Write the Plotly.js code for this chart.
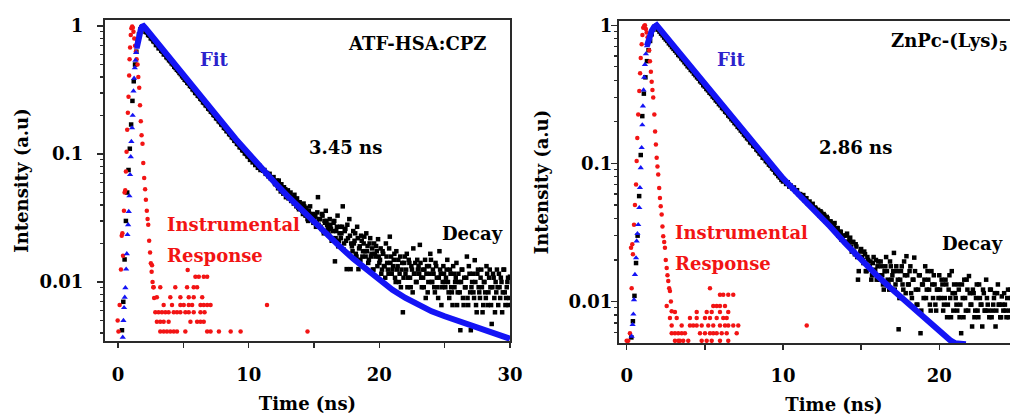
<!DOCTYPE html>
<html><head><meta charset="utf-8">
<script src="https://cdn.plot.ly/plotly-3.0.1.min.js"></script>
<style>html,body{margin:0;padding:0;background:#fff;overflow:hidden}
#frame{width:1010px;height:418px;overflow:hidden;position:relative}</style>
</head><body><div id="frame"><div id="chart"></div></div>
<script>
// ---------- Left panel: ATF-HSA:CPZ ----------
const decayLeftStart = 0.3, decayLeftStep = 0.1;
const decayLeft = [
 0.0042,0.007,0.015,0.03,0.05,0.075,0.11,0.17,0.26,0.37,0.5,0.63,0.76,0.86,0.94,0.98,0.99,
 0.95,0.90,0.89,0.85,0.84,0.80,0.79,0.76,0.75,0.71,0.71,0.67,0.67,0.64,0.63,0.60,0.60,0.57,0.56,0.54,
 0.53,0.51,0.50,0.48,0.47,0.455,0.445,0.43,0.42,0.405,
 0.395,0.38,0.375,0.36,0.355,0.34,0.335,0.32,0.315,0.30,0.298,0.285,0.282,0.27,0.265,0.253,0.25,0.24,0.237,0.226,
 0.223,0.214,0.211,0.202,0.199,0.19,0.188,0.18,0.177,0.17,0.168,0.16,0.158,0.151,0.15,0.143,0.141,0.135,0.133,0.127,
 0.126,0.12,0.119,0.113,0.112,0.107,0.106,0.101,0.1,0.096,0.095,
 0.09,0.091,0.086,0.087,0.082,0.084,0.078,0.081,0.075,0.077,
 0.074,0.075,0.070,0.071,0.067,0.070,0.064,0.063,0.066,0.059,
 0.060,0.057,0.062,0.054,0.058,0.051,0.055,0.053,0.049,0.052,
 0.047,0.050,0.044,0.046,0.048,0.041,0.045,0.038,0.042,0.040,
 0.036,0.041,0.034,0.038,0.031,0.036,0.039,0.032,0.034,0.030,
 0.033,0.029,0.046,0.031,0.027,0.034,0.025,0.030,0.036,0.028,
 0.024,0.031,0.026,0.022,0.029,0.0145,0.025,0.033,0.021,0.027,
 0.024,0.039,0.020,0.026,0.0126,0.022,0.031,0.0126,0.019,0.025,
 0.021,0.0166,0.027,0.0126,0.019,0.023,0.0158,0.020,0.0174,0.024,
 0.0191,0.0149,0.022,0.0166,0.0125,0.020,0.0158,0.0174,0.0216,0.0141,
 0.0183,0.0125,0.0166,0.0133,0.020,0.0141,0.0116,0.0226,0.0158,0.0125,
 0.0149,0.0108,0.0174,0.0133,0.0100,0.0158,0.0125,0.0058,0.0141,0.0116,
 0.0166,0.0108,0.0141,0.0091,0.0125,0.0183,0.0116,0.0100,0.0149,0.0133,
 0.0195,0.0108,0.0125,0.0091,0.0149,0.0116,0.0083,0.0133,0.0166,0.0100,
 0.0125,0.0091,0.0141,0.0108,0.0075,0.0174,0.0116,0.0091,0.0133,0.0100,
 0.0108,0.0149,0.0083,0.0125,0.0091,0.0066,0.0116,0.0100,0.0141,0.0083,
 0.0100,0.0042,0.0125,0.0075,0.0108,0.0091,0.0158,0.0066,0.0116,0.0042,
 0.0100,0.0083,0.0148,0.0066,0.0116,0.0091,0.0075,0.0125,0.0058,0.0100,
 0.0083,0.0133,0.0066,0.0108,0.0091,0.0047,0.0116,0.0075,0.0100,0.0125,
 0.0066,0.0091,0.0108,0.0058,0.0125,0.0083,0.0075,0.0100,0.0066,0.0110
];
// interleaved channels in the tail (12.05 ns onward)
const decayLeftTailStart = 12.05, decayLeftTailStep = 0.1;
const decayLeftTail = [
 0.058,0.062,0.054,0.058,0.051,0.055,0.049,0.052,0.046,0.05,
 0.045,0.048,0.043,0.046,0.041,0.043,0.039,0.042,0.037,0.040,
 0.037,0.034,0.039,0.033,0.035,0.030,0.034,0.031,0.033,0.029,
 0.032,0.027,0.035,0.028,0.031,0.026,0.033,0.024,0.029,0.030,
 0.026,0.023,0.028,0.021,0.025,0.030,0.022,0.027,0.019,0.024,
 0.022,0.027,0.018,0.025,0.021,0.028,0.0166,0.023,0.020,0.0174,
 0.020,0.024,0.0158,0.022,0.0183,0.0149,0.021,0.0174,0.0226,0.0158,
 0.0174,0.0141,0.020,0.0158,0.0183,0.0125,0.0166,0.0191,0.0133,0.0158,
 0.0149,0.0116,0.0174,0.0133,0.0108,0.0158,0.0125,0.0183,0.0141,0.0116,
 0.0133,0.0166,0.0100,0.0125,0.0149,0.0116,0.0091,0.0141,0.0108,0.0158,
 0.0125,0.0091,0.0149,0.0108,0.0133,0.0083,0.0116,0.0141,0.0100,0.0125,
 0.0116,0.0141,0.0091,0.0108,0.0125,0.0075,0.0133,0.0100,0.0116,0.0149,
 0.0100,0.0116,0.0083,0.0133,0.0091,0.0108,0.0125,0.0066,0.0100,0.0116,
 0.0091,0.0125,0.0100,0.0075,0.0116,0.0083,0.0133,0.0091,0.0108,0.0066,
 0.0116,0.0083,0.0100,0.0125,0.0066,0.0091,0.0108,0.0075,0.0133,0.0083,
 0.0091,0.0116,0.0075,0.0100,0.0058,0.0125,0.0083,0.0108,0.0091,0.0066,
 0.0100,0.0075,0.0116,0.0083,0.0125,0.0066,0.0091,0.0108,0.0058,0.0083,
 0.0091,0.0116,0.0075,0.0100,0.0083,0.0125,0.0066,0.0091,0.0108,0.0075
];
const fitRiseLeftT = [0.36,0.41,0.46,0.51,0.56,0.62,0.67,0.72,0.77,0.82,0.87,0.92,0.97,1.02,1.07,1.12,1.18,1.23,1.28,1.33,1.38,1.44];
const fitRiseLeftI = [0.0037,0.0050,0.0063,0.0076,0.0090,0.0126,0.0166,0.0234,0.028,0.0355,0.047,0.069,0.095,0.125,0.16,0.2,0.31,0.39,0.47,0.54,0.62,0.68];
const fitLeftT = [1.44,1.55,1.65,1.75,1.85,1.95,2.1,2.5,3,4,5,6,7,8,9,10,11,12,13,14,15,16,17,18,19,20,21,22,23,24,25,26,27,28,29,30];
const fitLeftI = [0.68,0.79,0.88,0.95,0.99,1.0,0.96,0.853,0.74,0.555,0.415,0.311,0.233,0.175,0.131,0.0995,0.0766,0.0596,0.0467,0.0369,0.0293,0.0234,0.0188,0.0152,0.0125,0.0104,0.0087,0.0075,0.0066,0.0059,0.0054,0.005,0.0046,0.0042,0.0039,0.0036];
const irfPulseLeftT = [-0.03,0.03,0.12,0.22,0.28,0.33,0.38,0.45,0.5,0.55,0.6,0.65,0.7,0.75,0.8,0.85,0.88,0.92,0.97,1.02,1.08,1.13,1.18,1.24,1.3,1.36,1.42,1.49,1.55,1.62,1.68,1.74,1.8,1.87,1.93,2.0,2.07,2.13,2.2,2.26,2.31,2.38,2.45,2.51,2.57,2.64,2.7,2.76];
const irfPulseLeftI = [0.005,0.0041,0.0066,0.0125,0.023,0.024,0.016,0.036,0.05,0.052,0.073,0.104,0.155,0.21,0.28,0.41,0.55,0.68,0.85,0.96,0.99,0.97,0.9,0.8,0.7,0.63,0.55,0.5,0.4,0.33,0.24,0.18,0.14,0.12,0.085,0.065,0.053,0.044,0.036,0.031,0.028,0.021,0.017,0.014,0.012,0.010,0.0091,0.0075];
const irfTailLeftT = [
 3.23,3.49,3.74,4.0,4.26,4.51,5.15,6.82,7.08,7.72,8.62,9.38,14.5,
 2.97,3.23,3.49,3.87,5.54,6.05,6.31,6.56,
 2.85,3.1,3.36,3.62,3.87,4.26,4.51,4.77,5.15,5.41,5.79,6.31,6.62,
 3.49,4.13,4.77,5.03,5.41,5.67,6.31,6.56,6.82,7.08,11.4,
 2.97,4.0,4.77,5.41,5.79,6.44,
 2.72,3.23,4.38,5.28,5.79,6.05,
 5.92,6.18,6.56,6.82,
 5.33,2.6];
const irfTailLeftI = [
 0.0041,0.0041,0.0041,0.0041,0.0041,0.0041,0.0041,0.0041,0.0041,0.0041,0.0041,0.0041,0.0041,
 0.0049,0.0049,0.0049,0.0049,0.0049,0.0049,0.0049,0.0049,
 0.0058,0.0058,0.0058,0.0058,0.0058,0.0058,0.0058,0.0058,0.0058,0.0058,0.0058,0.0058,0.0058,
 0.0066,0.0066,0.0066,0.0066,0.0066,0.0066,0.0066,0.0066,0.0066,0.0066,0.0066,
 0.0076,0.0076,0.0076,0.0076,0.0076,0.0076,
 0.0091,0.0091,0.0091,0.0091,0.0091,0.0091,
 0.011,0.011,0.011,0.011,
 0.0124,0.0135];

// ---------- Right panel: ZnPc-(Lys)5 ----------
const decayRightStart = 0.3, decayRightStep = 0.1;
const decayRight = [
 0.0055,0.0072,0.011,0.019,0.03,0.058,0.115,0.22,0.32,0.42,0.55,0.66,0.77,0.86,0.93,0.98,0.99,
 0.93,0.9,0.87,0.845,0.815,0.79,0.77,0.74,0.72,0.695,0.675,0.655,0.635,0.61,0.598,0.575,0.56,0.54,0.525,0.505,
 0.495,0.475,0.465,0.447,0.435,0.42,0.41,0.393,0.384,0.368,
 0.36,0.346,0.338,0.325,0.318,0.305,0.298,0.286,0.28,0.269,0.263,0.252,0.247,0.237,0.232,0.222,0.217,0.209,0.204,0.196,
 0.192,0.184,0.18,0.173,0.169,0.162,0.158,0.152,0.149,0.142,0.14,0.134,0.132,0.126,0.123,0.118,0.116,0.11,0.109,0.104,
 0.102,0.098,0.096,0.092,0.09,0.086,0.084,0.081,0.079,0.076,0.074,
 0.075,0.071,0.073,0.068,0.069,0.066,0.067,0.063,0.064,0.060,
 0.060,0.057,0.059,0.054,0.056,0.051,0.053,0.049,0.051,0.047,
 0.047,0.046,0.044,0.045,0.041,0.043,0.039,0.041,0.037,0.038,
 0.036,0.034,0.037,0.032,0.034,0.030,0.032,0.028,0.030,0.027,
 0.031,0.026,0.029,0.023,0.027,0.022,0.025,0.0144,0.021,0.024,
 0.020,0.023,0.0166,0.021,0.018,0.0195,0.0155,0.021,0.017,0.0144,
 0.0195,0.0155,0.018,0.0133,0.0166,0.021,0.0144,0.0122,0.018,0.0155,
 0.0225,0.0133,0.0166,0.0063,0.0144,0.018,0.0122,0.0155,0.0213,0.0133,
 0.0166,0.0115,0.0144,0.0208,0.0122,0.0095,0.0155,0.0059,0.0133,0.0106,
 0.018,0.0122,0.0144,0.0095,0.0166,0.0106,0.0133,0.0086,0.0122,0.0155,
 0.0106,0.0133,0.0095,0.0144,0.0077,0.0122,0.0106,0.0166,0.0086,0.0115,
 0.0095,0.0133,0.0077,0.0059,0.0106,0.0144,0.0086,0.0122,0.0153,0.0095,
 0.0066,0.0115,0.0086,0.0133,0.0077,0.0106,0.0095,0.0122,0.0086,0.0144,
 0.0095,0.0077,0.0122,0.0086,0.0106,0.0066,0.0115,0.0095,0.0077,0.0109,
 0.0086,0.0095,0.0077,0.0122,0.0086,0.0106,0.0077,0.0095,0.0115,0.0086,
 0.0095,0.0077,0.0106,0.0086,0.0122,0.0095,0.0077,0.0106,0.0086,0.0095,
 0.0115,0.0077,0.0095,0.0086,0.0106,0.0077,0.0122,0.0086,0.0095,0.0106
];
const decayRightTailStart = 12.05, decayRightTailStep = 0.1;
const decayRightTail = [
 0.048,0.045,0.046,0.042,0.044,0.040,0.042,0.038,0.040,0.036,
 0.038,0.035,0.036,0.032,0.034,0.030,0.032,0.028,0.030,0.027,
 0.030,0.027,0.028,0.025,0.027,0.023,0.026,0.021,0.0166,0.023,
 0.021,0.019,0.022,0.0166,0.020,0.018,0.0144,0.019,0.0166,0.020,
 0.018,0.0144,0.0195,0.0155,0.0122,0.018,0.0166,0.0133,0.0195,0.0144,
 0.0166,0.0122,0.018,0.0144,0.0106,0.0166,0.0133,0.0195,0.0115,0.0155,
 0.0133,0.018,0.0106,0.0144,0.0166,0.0095,0.0122,0.0155,0.0086,0.0133,
 0.0144,0.0106,0.0166,0.0122,0.0086,0.0133,0.0155,0.0095,0.0122,0.0106,
 0.0122,0.0144,0.0086,0.0106,0.0133,0.0095,0.0155,0.0077,0.0115,0.0133,
 0.0106,0.0086,0.0122,0.0095,0.0133,0.0077,0.0106,0.0144,0.0086,0.0115,
 0.0095,0.0122,0.0077,0.0106,0.0086,0.0133,0.0095,0.0066,0.0115,0.0086,
 0.0106,0.0086,0.0122,0.0077,0.0095,0.0115,0.0086,0.0133,0.0095,0.0077,
 0.0095,0.0115,0.0086,0.0106,0.0077,0.0122,0.0086,0.0095,0.0106,0.0077,
 0.0115,0.0086,0.0095,0.0077,0.0106,0.0122,0.0086,0.0095,0.0077,0.0106,
 0.0086,0.0106,0.0095,0.0115,0.0077,0.0086,0.0106,0.0095,0.0122,0.0086
];
const fitRiseRightT = [0.32,0.38,0.43,0.47,0.53,0.6,0.64,0.69,0.74,0.81,0.85,0.9,0.96,1.0,1.04,1.08,1.12,1.17,1.23,1.3];
const fitRiseRightI = [0.0056,0.0068,0.0081,0.0103,0.0157,0.0207,0.0274,0.031,0.036,0.0478,0.0667,0.093,0.13,0.19,0.26,0.34,0.42,0.52,0.62,0.71];
const fitRightT = [1.3,1.45,1.6,1.75,1.92,2.1,3,4,5,6,7,8,9,10,11,12,13,14,15,16,17,18,19,20,20.7,21.0,21.7];
const fitRightI = [0.71,0.82,0.91,0.97,1.0,0.945,0.711,0.519,0.378,0.276,0.201,0.147,0.107,0.078,0.0596,0.0462,0.0351,0.0263,0.020,0.0155,0.0122,0.00966,0.00776,0.00624,0.00525,0.0050,0.0049];
const irfPulseRightT = [0.0,0.1,0.21,0.28,0.32,0.36,0.4,0.47,0.53,0.6,0.64,0.68,0.74,0.81,0.86,0.9,0.96,1.01,1.06,1.12,1.17,1.23,1.28,1.34,1.39,1.44,1.49,1.55,1.6,1.65,1.7,1.77,1.82,1.87,1.92,1.97,2.02,2.08,2.13,2.18,2.24,2.29,2.34,2.4,2.45,2.5,2.56,2.61,2.66,2.72,2.77,2.83,2.88];
const irfPulseRightI = [0.0052,0.0052,0.0059,0.0245,0.0125,0.026,0.022,0.036,0.05,0.0705,0.104,0.153,0.226,0.334,0.45,0.58,0.728,0.85,0.96,0.99,1.0,0.94,0.885,0.82,0.77,0.66,0.55,0.46,0.39,0.34,0.3,0.226,0.17,0.137,0.11,0.095,0.083,0.0664,0.0563,0.049,0.0427,0.035,0.0297,0.027,0.0245,0.02,0.0175,0.0155,0.0141,0.0125,0.0119,0.01,0.0085];
const irfTailRightT = [
 3.09,3.3,3.41,3.62,3.94,4.8,5.12,5.44,5.97,6.5,
 2.88,3.09,3.3,3.52,3.73,4.69,5.01,5.33,5.54,5.76,6.08,6.4,7.04,
 2.88,3.52,4.05,4.26,4.48,4.8,5.22,5.54,5.97,6.29,6.5,6.82,7.14,11.52,
 2.77,3.2,4.05,4.48,5.01,5.33,5.76,6.18,6.4,
 3.09,4.48,5.12,5.44,5.97,6.5,
 2.56,5.54,5.76,5.97,6.29,
 5.97,6.18,6.5,6.82,
 5.33];
const irfTailRightI = [
 0.0052,0.0052,0.0052,0.0052,0.0052,0.0052,0.0052,0.0052,0.0052,0.0052,
 0.0059,0.0059,0.0059,0.0059,0.0059,0.0059,0.0059,0.0059,0.0059,0.0059,0.0059,0.0059,0.0059,
 0.0067,0.0067,0.0067,0.0067,0.0067,0.0067,0.0067,0.0067,0.0067,0.0067,0.0067,0.0067,0.0067,0.0067,
 0.0076,0.0076,0.0076,0.0076,0.0076,0.0076,0.0076,0.0076,0.0076,
 0.0084,0.0084,0.0084,0.0084,0.0084,0.0084,
 0.0093,0.0093,0.0093,0.0093,0.0093,
 0.0112,0.0112,0.0112,0.0112,
 0.0125];

const xTicksLeft = [0,10,20,30], xMinorLeft = [5,15,25];
const xTicksRight = [0,10,20], xMinorRight = [5,15,25];
const yTickVals = [0.01,0.1,1], yTickText = ['0.01','0.1','1'];
const yMinorVals = [0.004,0.005,0.006,0.007,0.008,0.009,0.02,0.03,0.04,0.05,0.06,0.07,0.08,0.09,0.2,0.3,0.4,0.5,0.6,0.7,0.8,0.9];

// ---------- styles ----------
// The original figure is cropped on the right: the full figure is 1050 px wide, shown in a 1010 px window.
const FONT = 'DejaVu Serif';
const BLUE = '#1414f5', RED = '#f21414', FRAME = '#2a2a2a', FITTEXT = '#2b22cc';
const W = 1050, H = 418;

const sqMarker = {symbol:'square', size:4.5, color:'#000'};
const dotMarker = {symbol:'circle', size:4.5, color:RED};
const triMarker = {symbol:'triangle-up', size:5.5, color:BLUE};

function panel(xa, ya, d){
  return [
    {x0:d.t0, dx:d.dt, y:d.decay, mode:'markers', marker:sqMarker, xaxis:xa, yaxis:ya, name:'Decay'},
    {x0:d.tt0, dx:d.tdt, y:d.tail, mode:'markers', marker:sqMarker, xaxis:xa, yaxis:ya, name:'Decay'},
    {x:d.irfT, y:d.irfI, mode:'markers', marker:dotMarker, xaxis:xa, yaxis:ya, name:'Instrumental Response'},
    {x:d.irfTT, y:d.irfTI, mode:'markers', marker:dotMarker, xaxis:xa, yaxis:ya, name:'Instrumental Response'},
    {x:d.fitT, y:d.fitI, mode:'lines', line:{color:BLUE, width:6}, xaxis:xa, yaxis:ya, name:'Fit'},
    {x:d.riseT, y:d.riseI, mode:'markers', marker:triMarker, xaxis:xa, yaxis:ya, name:'Fit'}
  ];
}
const traces = panel('x','y',{t0:decayLeftStart, dt:decayLeftStep, decay:decayLeft,
    tt0:decayLeftTailStart, tdt:decayLeftTailStep, tail:decayLeftTail,
    irfT:irfPulseLeftT, irfI:irfPulseLeftI, irfTT:irfTailLeftT, irfTI:irfTailLeftI,
    fitT:fitLeftT, fitI:fitLeftI, riseT:fitRiseLeftT, riseI:fitRiseLeftI})
  .concat(panel('x2','y2',{t0:decayRightStart, dt:decayRightStep, decay:decayRight,
    tt0:decayRightTailStart, tdt:decayRightTailStep, tail:decayRightTail,
    irfT:irfPulseRightT, irfI:irfPulseRightI, irfTT:irfTailRightT, irfTI:irfTailRightI,
    fitT:fitRightT, fitI:fitRightI, riseT:fitRiseRightT, riseI:fitRiseRightI}));

const tickFont = {family:FONT, size:18, color:'#000', weight:'bold'};
const titleFont = {family:FONT, size:18, color:'#000', weight:'bold'};

function xAxis(domain, range, ticks, minor, anchor, standoff){
  return {domain:domain, range:range, anchor:anchor, showline:true, linecolor:FRAME, linewidth:2, mirror:true,
    ticks:'outside', ticklen:5, tickwidth:1.5, tickcolor:FRAME, tickmode:'array', tickvals:ticks,
    minor:{tickmode:'array', tickvals:minor, ticks:'outside', ticklen:5, tickwidth:1.5, tickcolor:FRAME, showgrid:false},
    showgrid:false, zeroline:false, tickfont:tickFont, ticklabelstandoff:standoff,
    title:{text:'Time (ns)', font:titleFont, standoff:14}};
}
function yAxis(domain, range, anchor, mirror, standoff, titleStandoff){
  return {type:'log', domain:domain, range:range, anchor:anchor, showline:true, linecolor:FRAME, linewidth:2, mirror:mirror,
    ticks:'outside', ticklen:6, tickwidth:1.5, tickcolor:FRAME, tickmode:'array', tickvals:yTickVals, ticktext:yTickText,
    minor:{tickmode:'array', tickvals:yMinorVals, ticks:'outside', ticklen:3, tickwidth:1.2, tickcolor:FRAME, showgrid:false},
    showgrid:false, zeroline:false, tickfont:tickFont, ticklabelstandoff:standoff,
    title:{text:'Intensity (a.u)', font:titleFont, standoff:titleStandoff}};
}

function px(x){ return x/W; }
function py(y){ return 1 - y/H; }
function note(text, x, y, color, anchor){
  return {text:text, xref:'paper', yref:'paper', x:px(x), y:py(y), xanchor:anchor||'center', yanchor:'middle',
    showarrow:false, font:{family:FONT, size:18, color:color, weight:'bold'}};
}

const layout = {
  width:W, height:H, margin:{l:0, r:0, t:0, b:0}, paper_bgcolor:'#fff', plot_bgcolor:'#fff', showlegend:false,
  font:{family:FONT, size:18, color:'#000'},
  xaxis: xAxis([105/W, 510/W], [-1, 30], xTicksLeft, xMinorLeft, 'y', 11),
  yaxis: yAxis([(H-341)/H, (H-20)/H], [-2.461, 0.047], 'x', true, 10, 6),
  xaxis2: xAxis([619/W, 1049/W], [-0.49, 27.02], xTicksRight, xMinorRight, 'y2', 10),
  yaxis2: yAxis([(H-343)/H, (H-21)/H], [-2.30, 0.031], 'x2', true, -5, 15),
  annotations: [
    note('ATF-HSA:CPZ', 417, 43, '#000'),
    note('Fit', 214, 60, FITTEXT),
    note('3.45 ns', 346, 147, '#000'),
    note('Instrumental', 165, 224, RED, 'left'),
    note('Response', 165, 255, RED, 'left'),
    note('Decay', 472, 233, '#000'),
    note('ZnPc-(Lys)<sub>5</sub>', 889, 42, '#000', 'left'),
    note('Fit', 731, 60, FITTEXT),
    note('2.86 ns', 855, 147, '#000'),
    note('Instrumental', 673, 232, RED, 'left'),
    note('Response', 673, 263, RED, 'left'),
    note('Decay', 972, 243, '#000')
  ]
};

Plotly.newPlot('chart', traces, layout, {staticPlot:true, displayModeBar:false});
</script></body></html>
